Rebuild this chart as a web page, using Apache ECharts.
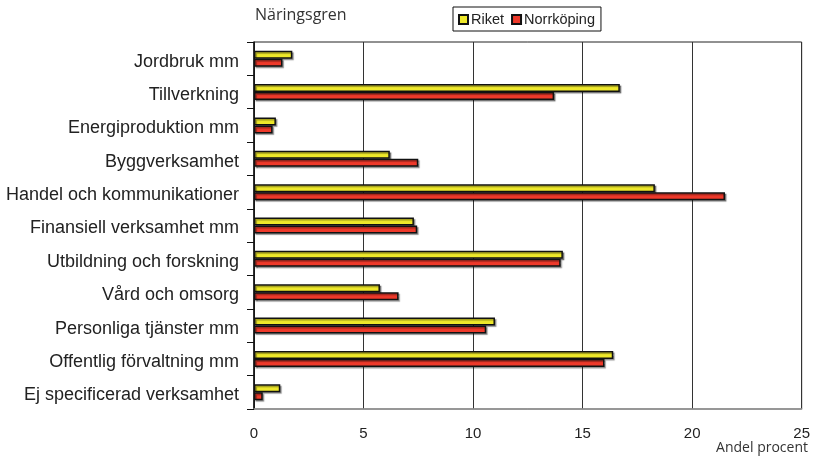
<!DOCTYPE html>
<html>
<head>
<meta charset="utf-8">
<script src="https://cdn.jsdelivr.net/npm/echarts@6/dist/echarts.min.js"></script>
<style>
  html, body { margin: 0; padding: 0; background: #fff; }
  #chart { width: 813px; height: 458px; }
</style>
</head>
<body>
<div id="chart"></div>
<script>
const categories = ['Jordbruk mm', 'Tillverkning', 'Energiproduktion mm', 'Byggverksamhet',
  'Handel och kommunikationer', 'Finansiell verksamhet mm', 'Utbildning och forskning',
  'Vård och omsorg', 'Personliga tjänster mm', 'Offentlig förvaltning mm', 'Ej specificerad verksamhet'];
const riket = [1.75, 16.7, 1.0, 6.2, 18.3, 7.3, 14.1, 5.75, 11.0, 16.4, 1.2];
const norrkoping = [1.3, 13.7, 0.85, 7.5, 21.5, 7.45, 14.0, 6.6, 10.6, 16.0, 0.4];
const xTicks = [0, 5, 10, 15, 20, 25];

const chart = echarts.init(document.getElementById('chart'));

function barStyle(color) {
  return {
    color: color,
    borderColor: '#111',
    borderWidth: 1.5,
    shadowColor: 'rgba(0,0,0,0.35)',
    shadowBlur: 1,
    shadowOffsetX: 1.5,
    shadowOffsetY: 1.5
  };
}

const option = {
  animation: false,
  backgroundColor: '#fff',
  textStyle: { fontFamily: 'Liberation Sans, Arial, sans-serif' },
  grid: {
    left: 254, right: 8, top: 42, bottom: 49,
    show: true,
    borderColor: '#222',
    borderWidth: 1
  },
  legend: {
    left: 453, top: 7,
    padding: [5, 6, 4, 5],
    itemGap: 7,
    itemWidth: 9, itemHeight: 9,
    icon: 'rect',
    backgroundColor: '#fff',
    borderColor: '#111',
    borderWidth: 1,
    textStyle: { fontSize: 14.5, color: '#222', padding: [0, 0, 0, -2] },
    data: ['Riket', 'Norrköping']
  },
  graphic: [
    { type: 'text', left: 255, top: 7,
      style: { text: 'Näringsgren', fontSize: 16, fill: '#333', fontFamily: 'Open Sans, sans-serif' } },
    { type: 'text', right: 5, top: 441,
      style: { text: 'Andel procent', fontSize: 14, fill: '#333', fontFamily: 'Open Sans, sans-serif' } }
  ],
  xAxis: {
    type: 'value',
    min: xTicks[0],
    max: xTicks[xTicks.length - 1],
    interval: 5,
    axisLine: { show: true, lineStyle: { color: '#999', width: 1.5 } },
    axisTick: { show: false },
    axisLabel: { fontSize: 15, color: '#222', margin: 17 },
    splitLine: { show: true, lineStyle: { color: '#333', width: 1 } }
  },
  yAxis: {
    type: 'category',
    inverse: true,
    data: categories,
    axisLine: { show: true, lineStyle: { color: '#111', width: 1.5 } },
    axisTick: { show: true, length: 7, lineStyle: { color: '#111' } },
    // shift labels a few px below band centre, like the reference
    axisLabel: { fontSize: 18, color: '#222', margin: 15, verticalAlign: 'top', lineHeight: 6 }
  },
  series: [
    {
      name: 'Riket',
      type: 'bar',
      barWidth: 8,
      barGap: '0%',
      itemStyle: barStyle('#EEE82A'),
      data: riket
    },
    {
      name: 'Norrköping',
      type: 'bar',
      barWidth: 8,
      barGap: '0%',
      itemStyle: barStyle('#EE392A'),
      data: norrkoping
    }
  ]
};

chart.setOption(option);
</script>
</body>
</html>
